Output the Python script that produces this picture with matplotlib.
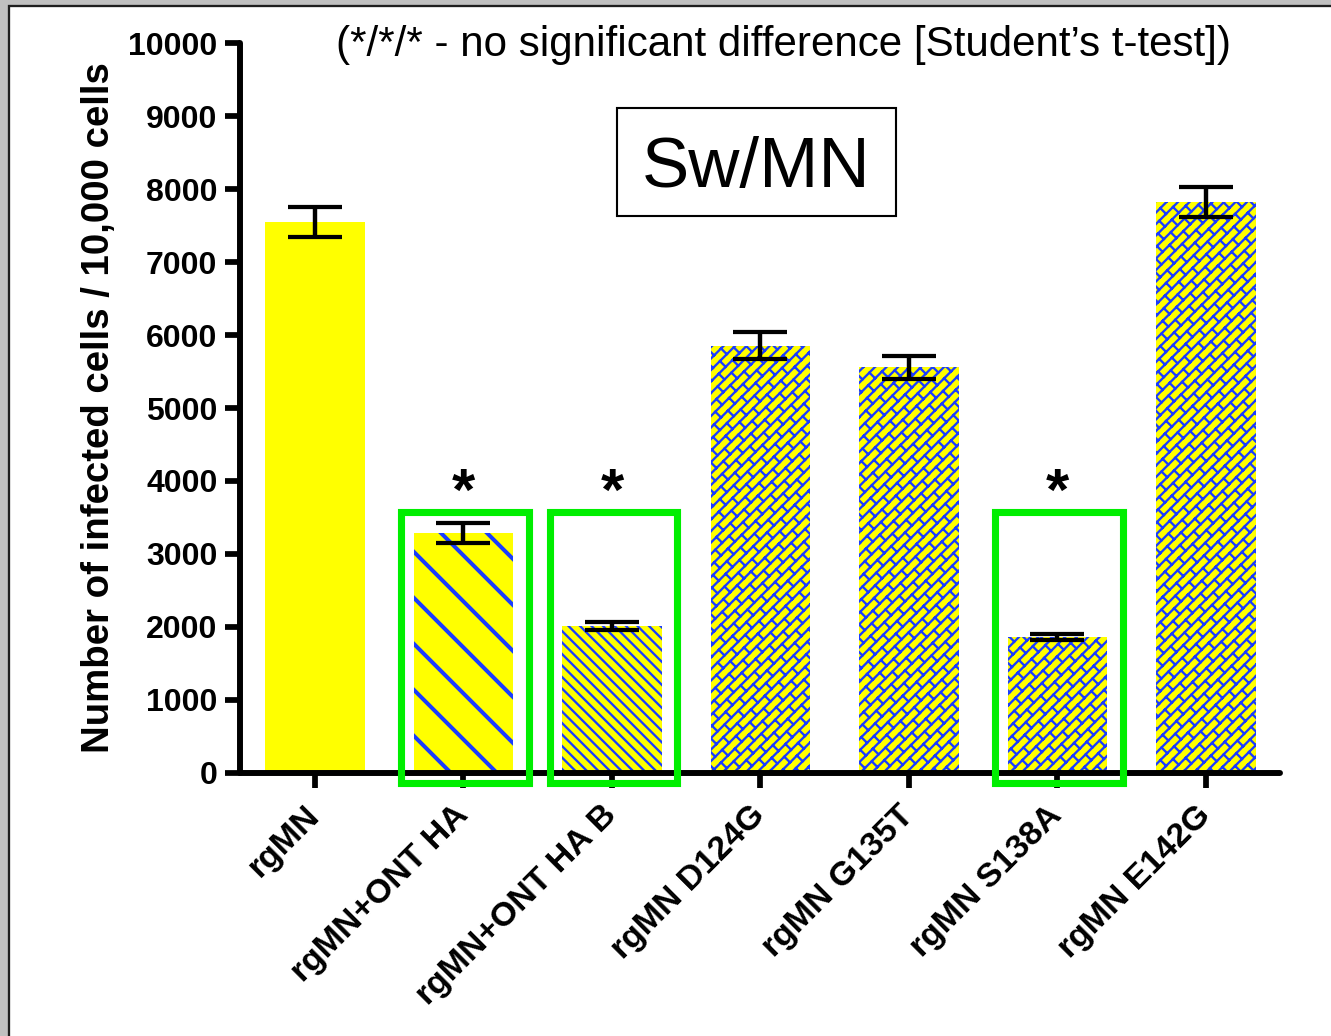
import warnings
import numpy as np
import matplotlib
matplotlib.use('Agg')
import matplotlib.pyplot as plt
from matplotlib import hatch as mhatch
from matplotlib.path import Path
from matplotlib.patches import Rectangle

warnings.filterwarnings('ignore')

# infected cells per 10,000 cells, mean and error
labels = ['rgMN', 'rgMN+ONT HA', 'rgMN+ONT HA B', 'rgMN D124G',
          'rgMN G135T', 'rgMN S138A', 'rgMN E142G']
means = [7550, 3282, 2007, 5854, 5558, 1860, 7824]
errors = [200, 137, 55, 187, 160, 45, 201]
starred = [1, 2, 5]

YELLOW = '#ffff00'
BLUE = '#1a3cff'
GREEN = '#00ee00'
DPI = 138


class BrickHatch(mhatch.HatchPatternBase):
    """45 degree brick wall, used for hatch letter 'b'."""

    def __init__(self, hatch, density):
        n = 12   # long diagonals per tile (even)
        m = 10   # bricks along a diagonal per tile (even)
        segs = []
        if 'b' in hatch:
            for k in range(-n, n + 1):
                segs.append(((k / n, 0.0), (k / n + 1.0, 1.0)))
            # short joints between neighbouring diagonals, staggered by half a brick
            for k in range(-n - 1, n + 1):
                for j in range(-m - 2, 2 * m + 2):
                    u = 2.0 * (j + 0.5 * (k % 2)) / m
                    t = (u - k / n) / 2.0
                    x0, y0 = k / n + t, t
                    x1, y1 = x0 + 0.5 / n, y0 - 0.5 / n
                    if max(x0, x1) < -0.05 or min(x0, x1) > 1.05:
                        continue
                    if max(y0, y1) < -0.05 or min(y0, y1) > 1.05:
                        continue
                    segs.append(((x0, y0), (x1, y1)))
        self.segs = segs
        self.num_vertices = 2 * len(segs)

    def set_vertices_and_codes(self, vertices, codes):
        vertices[:] = np.array(self.segs, dtype=float).reshape(-1, 2)
        codes[0::2] = Path.MOVETO
        codes[1::2] = Path.LINETO


mhatch._hatch_types.append(BrickHatch)

plt.rcParams['font.family'] = ['Liberation Sans', 'DejaVu Sans']
plt.rcParams['hatch.color'] = BLUE
plt.rcParams['hatch.linewidth'] = 1.2

W, H = 1331, 1036
fig = plt.figure(figsize=(W / DPI, H / DPI), dpi=DPI)
fig.patch.set_facecolor('#c0c0c0')
fig.add_artist(Rectangle((8.5 / W, -0.05), 1.1, (H - 6) / H + 0.05,
                         transform=fig.transFigure, facecolor='white',
                         edgecolor='#1e1e1e', linewidth=1.2, zorder=-10))

ax = fig.add_axes([240 / W, (H - 772.7) / H, (1280 - 240) / W, (772.7 - 43.3) / H])

hatches = [None, '\\', '\\\\\\\\', 'b', 'b', 'b', 'b']
hatch_lw = [1.2, 2.1, 1.2, 1.2, 1.2, 1.2, 1.2]
x = np.arange(len(labels))
for i in range(len(labels)):
    with plt.rc_context({'hatch.linewidth': hatch_lw[i]}):
        bars = ax.bar(x[i], means[i], width=0.67, color=YELLOW,
                      edgecolor=BLUE if hatches[i] else YELLOW,
                      linewidth=0, hatch=hatches[i], zorder=2)
    for b in bars:
        if hasattr(b, 'set_hatch_linewidth'):
            b.set_hatch_linewidth(hatch_lw[i])

ax.errorbar(x, means, yerr=errors, fmt='none', ecolor='black',
            elinewidth=2.3, capsize=13.9, capthick=2.2, zorder=4)

for i in starred:
    ax.add_patch(Rectangle((i - 0.42, -140), 0.86, 3720, fill=False,
                           edgecolor=GREEN, linewidth=3.7, clip_on=False, zorder=5))
    ax.text(i, 3810, '*', ha='center', va='center', fontsize=31,
            fontweight='bold', zorder=6)

ax.set_xlim(-0.505, 6.5)
ax.set_ylim(0, 10000)
ax.set_yticks(np.arange(0, 10001, 1000))
ax.set_xticks(x)
ax.set_xticklabels(labels, rotation=45, ha='right', va='center',
                   rotation_mode='anchor', fontweight='bold', fontsize=17.7)
for t in ax.get_yticklabels():
    t.set_fontweight('bold')

for side in ['top', 'right']:
    ax.spines[side].set_visible(False)
for side in ['left', 'bottom']:
    ax.spines[side].set_linewidth(3.1)
    ax.spines[side].set_capstyle('round')
ax.tick_params(direction='out', length=7.8, width=3.0, pad=4)
ax.tick_params(axis='y', labelsize=16.7)
ax.tick_params(axis='x', pad=12)

ax.set_ylabel('Number of infected cells / 10,000 cells', fontsize=20,
              fontweight='bold')
ax.yaxis.set_label_coords(-0.118, 0.5)

fig.text(783.5 / W, 1 - 45 / H,
         '(*/*/* - no significant difference [Student\u2019s t-test])',
         ha='center', va='center', fontsize=22)

fig.add_artist(Rectangle((617 / W, 1 - 216 / H), (896 - 617) / W, 108 / H,
                         transform=fig.transFigure, fill=False,
                         edgecolor='black', linewidth=1.1))
fig.text(756.5 / W, 1 - 169 / H, 'Sw/MN', ha='center', va='center', fontsize=37)

fig.savefig('out.png', dpi=DPI, facecolor=fig.get_facecolor())
